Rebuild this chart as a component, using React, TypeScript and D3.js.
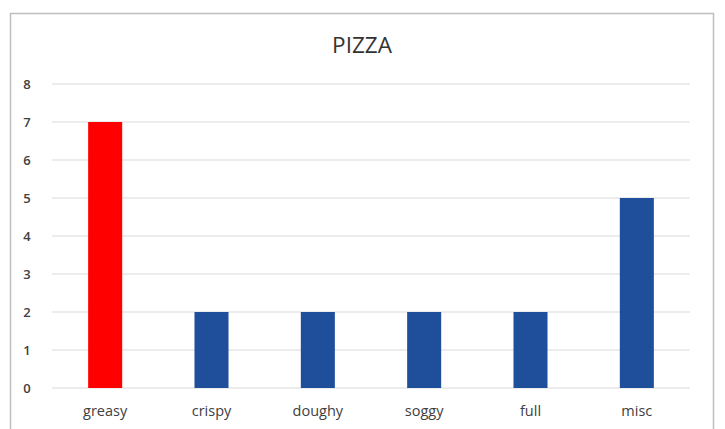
import React from "react";
import * as d3 from "d3";

const categories = ["greasy", "crispy", "doughy", "soggy", "full", "misc"];
const values = [7, 2, 2, 2, 2, 5];
const barColors = ["#FF0000", "#1F4E9B", "#1F4E9B", "#1F4E9B", "#1F4E9B", "#1F4E9B"];
const yTicks = [0, 1, 2, 3, 4, 5, 6, 7, 8];
const title = "PIZZA";

export default function App() {
  const W = 725, H = 429;
  const left = 52, right = 690, top = 84, bottom = 388;
  const x = d3.scaleBand().domain(categories).range([left, right]).paddingInner(0.68).paddingOuter(0.34);
  const y = d3.scaleLinear().domain([0, 8]).range([bottom, top]);
  const font = "'Open Sans', 'Liberation Sans', sans-serif";
  return (
    <svg width={W} height={H} style={{ position: "absolute", left: 0, top: 0, background: "#fff" }}>
      <rect x={10.5} y={13.5} width={703} height={430} fill="#fff" stroke="#BFBFBF" strokeWidth={1.5} />
      <text x={362} y={53} textAnchor="middle" fontFamily={font} fontSize={22.5} fill="#333">{title}</text>
      {yTicks.map((t) => (
        <g key={t}>
          <line x1={left} x2={right} y1={y(t)} y2={y(t)} stroke="#D9D9D9" strokeWidth={1} />
          <text x={27} y={y(t) + 4.5} textAnchor="middle" fontFamily={font} fontSize={13} fontWeight={600} fill="#404040">{t}</text>
        </g>
      ))}
      {categories.map((c, i) => (
        <g key={c}>
          <rect x={x(c)} y={y(values[i])} width={x.bandwidth()} height={y(0) - y(values[i])} fill={barColors[i]} />
          <text x={(x(c) as number) + x.bandwidth() / 2} y={416} textAnchor="middle" fontFamily={font} fontSize={14.5} fill="#404040">{c}</text>
        </g>
      ))}
    </svg>
  );
}
